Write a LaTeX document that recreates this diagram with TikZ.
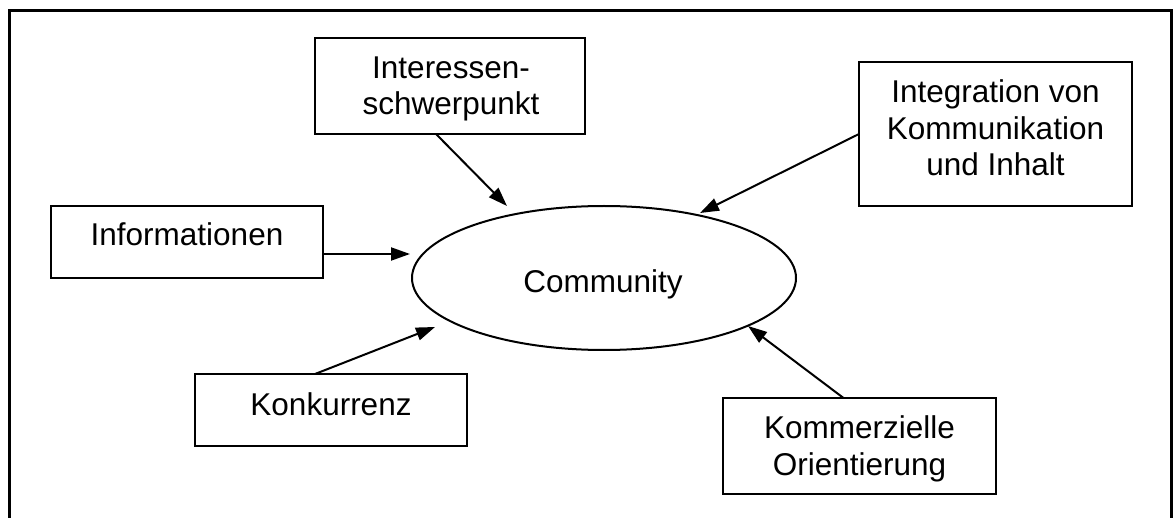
\documentclass[tikz,border=0pt]{standalone}
\usepackage{fontspec}
\setmainfont{Liberation Sans}
\usetikzlibrary{arrows.meta,shapes.geometric}
\begin{document}
\begin{tikzpicture}[x=1pt,y=-1pt,
  box/.style={draw, line width=2pt, rectangle, inner sep=0pt, outer sep=0pt},
  hub/.style={draw, line width=2pt, ellipse, inner sep=0pt, outer sep=0pt},
  txt/.style={inner sep=0pt, align=center, anchor=base,
              font=\fontsize{31.5}{36.5}\selectfont},
  link/.style={line width=2pt, -{Triangle[length=19pt,width=13pt]}}]
\useasboundingbox (0,0) rectangle (1174,518);
% open frame around the diagram
\draw[line width=3pt] (9,530) -- (9,11) -- (1171,11) -- (1171,530);

% central ellipse
\node[hub, minimum width=384pt, minimum height=144pt] (comm) at (604,278) {};
\node[txt] (commtext) at (603,293) {Community};

% surrounding factors (text anchored at the baseline of its last line)
\node[box, minimum width=270pt, minimum height=96pt] (ib) at (450,86) {};
\node[txt] (ibtext) at (451,115) {Interessen-\\schwerpunkt};

\node[box, minimum width=273pt, minimum height=144pt] (integ) at (995.5,134) {};
\node[txt] (integtext) at (995.5,176) {Integration von\\Kommunikation\\und Inhalt};

\node[box, minimum width=272pt, minimum height=72pt] (info) at (187,242) {};
\node[txt] (infotext) at (187,246) {Informationen};

\node[box, minimum width=272pt, minimum height=72pt] (konk) at (331,410) {};
\node[txt] (konktext) at (331,415) {Konkurrenz};

\node[box, minimum width=273pt, minimum height=96pt] (komm) at (859.5,446) {};
\node[txt] (kommtext) at (859.5,475) {Kommerzielle\\Orientierung};

% influences pointing at the community
\draw[link] ([shift={(-14,0)}]ib.south) -- ([shift={(-97,-72)}]comm.center);
\draw[link] (integ.west) -- ([shift={(96,-65)}]comm.center);
\draw[link] ([shift={(0,12)}]info.east) -- ([shift={(-194,-24)}]comm.center);
\draw[link] ([shift={(-16,0)}]konk.north) -- ([shift={(-169,49)}]comm.center);
\draw[link] ([shift={(-16,0)}]komm.north) -- ([shift={(144,48)}]comm.center);
\end{tikzpicture}
\end{document}
